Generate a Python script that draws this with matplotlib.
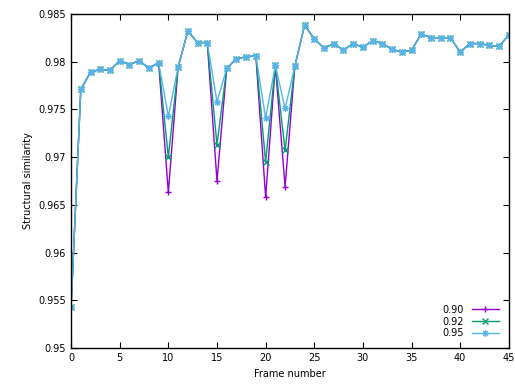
import matplotlib.pyplot as plt
from matplotlib.path import Path
from matplotlib.ticker import FuncFormatter, MultipleLocator

frames = list(range(46))

ssim_095 = [0.9543, 0.9771, 0.9789, 0.9792, 0.9791, 0.9801, 0.9797, 0.9801, 0.9793, 0.9799,
            0.9743, 0.9794, 0.9832, 0.9820, 0.9820, 0.9758, 0.9793, 0.9803, 0.9805, 0.9806,
            0.9741, 0.9796, 0.9751, 0.9795, 0.9838, 0.9824, 0.9814, 0.9819, 0.9812, 0.9819,
            0.9815, 0.9822, 0.9819, 0.9813, 0.9810, 0.9812, 0.9829, 0.9825, 0.9825, 0.9825,
            0.9810, 0.9819, 0.9819, 0.9817, 0.9816, 0.9828]

# same as 0.95 except at the dips
ssim_092 = list(ssim_095)
ssim_090 = list(ssim_095)
dips_092 = {10: 0.9700, 15: 0.9713, 20: 0.9695, 22: 0.9707}
dips_090 = {10: 0.9663, 15: 0.9675, 20: 0.9658, 22: 0.9669}
for k, v in dips_092.items():
    ssim_092[k] = v
for k, v in dips_090.items():
    ssim_090[k] = v

# gnuplot style asterisk: + and x on top of each other
star = Path([(-1, 0), (1, 0), (0, -1), (0, 1), (-0.7, -0.7), (0.7, 0.7), (-0.7, 0.7), (0.7, -0.7)],
            [Path.MOVETO, Path.LINETO] * 4)

fig = plt.figure(figsize=(5.15, 3.86), dpi=100)
ax = fig.add_axes([0.138, 0.098, 0.850, 0.866])

ax.plot(frames, ssim_090, color='#9400d3', lw=1, marker='+', ms=5, mew=1, label='0.90')
ax.plot(frames, ssim_092, color='#009e73', lw=1, marker='x', ms=4, mew=1, label='0.92')
ax.plot(frames, ssim_095, color='#56b4e9', lw=1, marker=star, ms=5, mew=1,
        mfc='none', label='0.95')

ax.set_xlim(0, 45)
ax.set_ylim(0.95, 0.985)
ax.xaxis.set_major_locator(MultipleLocator(5))
ax.yaxis.set_major_locator(MultipleLocator(0.005))
ax.yaxis.set_major_formatter(FuncFormatter(lambda v, p: '%g' % round(v, 3)))
ax.tick_params(direction='in', top=True, right=True, labelsize=7, length=4, width=0.8)
for s in ax.spines.values():
    s.set_linewidth(1)

ax.set_xlabel('Frame number', fontsize=7)
ax.set_ylabel('Structural similarity', fontsize=7)

ax.legend(loc='lower right', frameon=False, fontsize=7, markerfirst=False,
          handlelength=2.8, labelspacing=0.2, borderaxespad=0.6)

fig.savefig('out.png', dpi=100)
